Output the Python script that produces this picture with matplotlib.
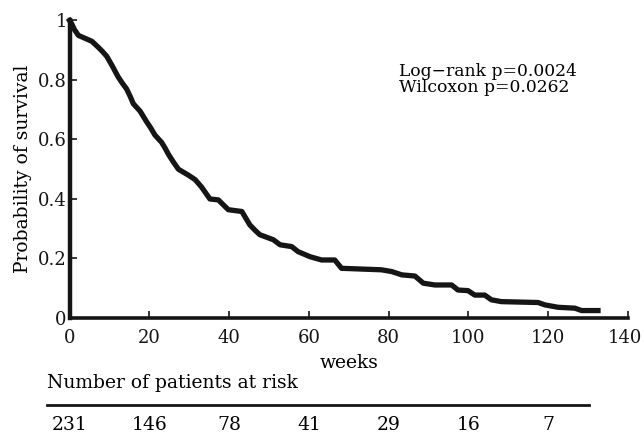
import numpy as np
import matplotlib.pyplot as plt
from matplotlib import transforms

plt.rcParams['font.family'] = ['DejaVu Serif']

# Kaplan-Meier estimate (weeks, survival)
weeks = [0, 0.5, 1.2, 2.2, 3.9, 5.6, 7.2, 8.3, 9.3, 10.6, 11.4, 12.2, 13.2, 14.3,
         15.2, 16.0, 17.7, 19.3, 20.3, 21.4, 23.1, 24.0, 24.8, 26.0, 27.3, 29.8,
         31.5, 33.1, 35.2, 37.3, 39.8, 43.2, 45.2, 46.5, 47.7, 51.1, 52.8, 55.7,
         57.3, 60.3, 63.2, 66.5, 68.2, 78.2, 80.8, 83.3, 86.6, 88.7, 91.6, 95.8,
         97.4, 99.9, 101.6, 104.1, 105.8, 108.3, 117.5, 119.2, 122.5, 126.7,
         128.4, 132.5]
survival = [1.0, 0.99, 0.97, 0.95, 0.94, 0.93, 0.91, 0.895, 0.88, 0.85, 0.83,
            0.81, 0.79, 0.77, 0.745, 0.72, 0.695, 0.66, 0.64, 0.615, 0.59, 0.57,
            0.55, 0.525, 0.50, 0.48, 0.465, 0.44, 0.40, 0.397, 0.364, 0.358,
            0.313, 0.295, 0.28, 0.263, 0.246, 0.24, 0.223, 0.206, 0.195, 0.195,
            0.167, 0.162, 0.156, 0.145, 0.141, 0.117, 0.111, 0.111, 0.094,
            0.092, 0.077, 0.077, 0.061, 0.055, 0.052, 0.044, 0.036, 0.033,
            0.025, 0.025]

risk_weeks = [0, 20, 40, 60, 80, 100, 120]
at_risk = [231, 146, 78, 41, 29, 16, 7]

x_ticks = [0, 20, 40, 60, 80, 100, 120, 140]
y_ticks = [0, 0.2, 0.4, 0.6, 0.8, 1]
y_labels = ['0', '0.2', '0.4', '0.6', '0.8', '1']

fs = 13.5

fig = plt.figure(figsize=(6.44, 4.33), dpi=100)
ax = fig.add_axes([0.108, 0.2656, 0.867, 0.6871])

# many small KM steps -> draw as a jagged line like the reference
ax.plot(weeks, survival, color='#151515', lw=3.8, solid_joinstyle='round',
        clip_on=False)

ax.set_xlim(0, 140)
ax.set_ylim(0, 1)
ax.spines['top'].set_visible(False)
ax.spines['right'].set_visible(False)
ax.spines['left'].set_linewidth(3.2)
ax.spines['bottom'].set_linewidth(2.6)
ax.spines['left'].set_color('#151515')
ax.spines['bottom'].set_color('#151515')

ax.set_xticks(x_ticks)
ax.set_yticks(y_ticks)
ax.set_yticklabels(y_labels)
ax.tick_params(direction='in', length=5, width=1.2, labelsize=13, colors='#151515')
ax.tick_params(axis='x', pad=8)
ax.tick_params(axis='y', pad=2)

# last x label sits right at the figure edge, nudge it a little left
last = ax.get_xticklabels()[-1]
last.set_transform(last.get_transform() +
                   transforms.ScaledTranslation(-0.03, 0, fig.dpi_scale_trans))

ax.set_xlabel('weeks', fontsize=fs, labelpad=5)
ax.set_ylabel('Probability of survival', fontsize=fs, labelpad=4)

ax.text(82.6, 0.83, 'Log\u2212rank p=0.0024', fontsize=12.3, va='center')
ax.text(82.6, 0.774, 'Wilcoxon p=0.0262', fontsize=12.3, va='center')

# number at risk table below the axis
fig.text(0.073, 0.1155, 'Number of patients at risk', fontsize=fs, va='center')
fig.add_artist(plt.Line2D([0.073, 0.9146], [0.0647, 0.0647], color='#151515', lw=2))
trans = transforms.blended_transform_factory(ax.transData, fig.transFigure)
for w, n in zip(risk_weeks, at_risk):
    ax.text(w, 0.0185, str(n), transform=trans, fontsize=fs, ha='center', va='center')

fig.savefig('out.png', dpi=100)
